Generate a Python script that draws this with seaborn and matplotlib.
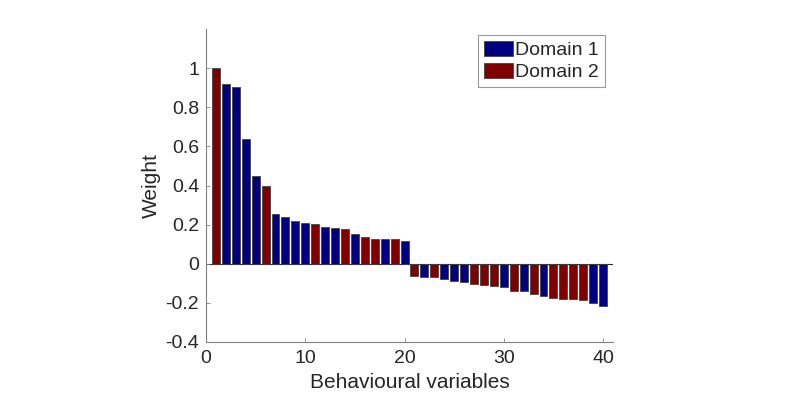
import numpy as np
import pandas as pd
import seaborn as sns
import matplotlib.pyplot as plt

# weights, variables sorted by weight
weights = [1.0, 0.92, 0.904, 0.639, 0.450, 0.397, 0.253, 0.238, 0.219, 0.210,
           0.205, 0.190, 0.185, 0.176, 0.152, 0.138, 0.126, 0.126, 0.125, 0.118,
           -0.065, -0.067, -0.068, -0.077, -0.087, -0.091, -0.103, -0.108, -0.113, -0.118,
           -0.137, -0.140, -0.157, -0.166, -0.174, -0.179, -0.179, -0.185, -0.202, -0.217]
domains = [2, 1, 1, 1, 1, 2, 1, 1, 1, 1,
           2, 1, 1, 2, 1, 2, 2, 1, 2, 1,
           2, 1, 2, 1, 1, 1, 2, 2, 2, 1,
           2, 1, 2, 1, 2, 2, 2, 2, 1, 1]
variables = list(range(1, 41))

df = pd.DataFrame({
    "var": variables,
    "weight": weights,
    "domain": ["Domain %d" % d for d in domains],
})

sns.set_style("white")
plt.rcParams['font.family'] = ['Liberation Sans', 'DejaVu Sans']

fig = plt.figure(figsize=(8, 3.95), dpi=100)
ax = fig.add_axes([206 / 800, 1 - 342 / 395, 407 / 800, 313 / 395])

pal = {"Domain 1": "#000080", "Domain 2": "#800000"}
sns.barplot(data=df, x="var", y="weight", hue="domain", hue_order=["Domain 1", "Domain 2"],
            palette=pal, native_scale=True, dodge=False, width=0.8,
            edgecolor="#444444", linewidth=0.6, saturation=1, ax=ax)

ax.set_xlim(0, 41)
ax.set_ylim(-0.4, 1.2)
ax.set_xticks([0, 10, 20, 30, 40])
ax.set_yticks([-0.4, -0.2, 0, 0.2, 0.4, 0.6, 0.8, 1])
ax.set_yticklabels(["-0.4", "-0.2", "0", "0.2", "0.4", "0.6", "0.8", "1"])
ax.tick_params(bottom=True, left=True, direction="in", length=3, labelsize=14,
               color="#808080", labelcolor="#262626", width=0.6)
ax.tick_params(axis="x", pad=6)
ax.tick_params(axis="y", pad=5)
ax.axhline(0, color="#262626", lw=0.8, zorder=0.5)
ax.set_xlabel("Behavioural variables", fontsize=15, color="#262626", labelpad=4)
ax.set_ylabel("Weight", fontsize=15, color="#262626", labelpad=3)

for side in ["top", "right"]:
    ax.spines[side].set_visible(False)
for side in ["left", "bottom"]:
    ax.spines[side].set_color("#808080")
    ax.spines[side].set_linewidth(0.8)

leg = ax.legend(loc="upper right", bbox_to_anchor=(0.98, 0.981), fontsize=14, frameon=True,
                fancybox=False, edgecolor="#808080", handlelength=1.5, handleheight=0.8,
                handletextpad=0.1, borderpad=0.3, labelspacing=0.2, borderaxespad=0)
leg.get_frame().set_linewidth(0.8)

fig.savefig("out.png", dpi=100)
